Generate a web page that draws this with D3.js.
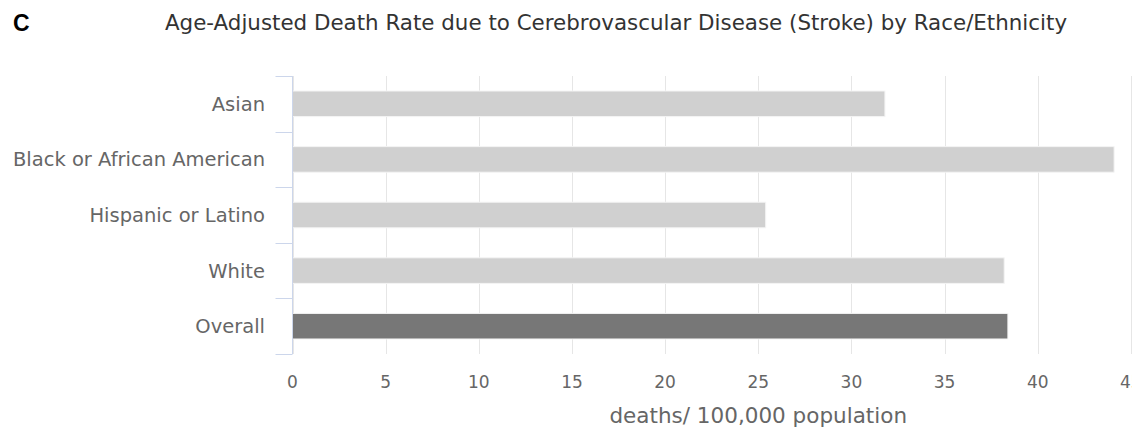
<!DOCTYPE html>
<html>
<head>
<meta charset="utf-8">
<script src="https://cdn.jsdelivr.net/npm/d3@7"></script>
<style>
  html, body { margin: 0; padding: 0; background: #ffffff; overflow: hidden; }
  svg { display: block; }
  text { font-family: "DejaVu Sans", sans-serif; }
</style>
</head>
<body>
<svg id="chart" width="1132" height="430"></svg>
<script>
// Age-adjusted stroke death rates (deaths per 100,000 population)
const categories = ["Asian", "Black or African American", "Hispanic or Latino", "White", "Overall"];
const rates = [31.8, 44.1, 25.4, 38.2, 38.4];
const xTicks = [0, 5, 10, 15, 20, 25, 30, 35, 40, 45];

const titleText = "Age-Adjusted Death Rate due to Cerebrovascular Disease (Stroke) by Race/Ethnicity";
const xTitle = "deaths/ 100,000 population";
const panelLetter = "C";

const svg = d3.select("#chart");

// value axis runs 0–50; the plot extends past the right edge of the view
const plot = { left: 292.5, right: 1224, top: 76, bottom: 354 };

const x = d3.scaleLinear().domain([0, 50]).range([plot.left, plot.right]);
const y = d3.scaleBand()
  .domain(categories)
  .range([plot.top, plot.bottom])
  .paddingInner(0.54)
  .paddingOuter(0.27);

// panel letter
svg.append("text")
  .attr("x", 13).attr("y", 31)
  .style("font-family", "'Liberation Sans', Arial, sans-serif")
  .attr("font-size", 23).attr("font-weight", "bold")
  .attr("fill", "#000")
  .text(panelLetter);

// chart title
svg.append("text")
  .attr("x", 616).attr("y", 30)
  .attr("text-anchor", "middle")
  .attr("font-size", 21.4)
  .attr("fill", "#333333")
  .text(titleText);

// vertical gridlines
svg.append("g")
  .selectAll("line")
  .data(xTicks)
  .join("line")
  .attr("x1", d => Math.round(x(d)) + 0.5)
  .attr("x2", d => Math.round(x(d)) + 0.5)
  .attr("y1", plot.top)
  .attr("y2", plot.bottom)
  .attr("stroke", "#e6e6e6")
  .attr("stroke-width", 1);

// x tick labels
svg.append("g")
  .selectAll("text")
  .data(xTicks)
  .join("text")
  .attr("x", d => x(d))
  .attr("y", 388)
  .attr("text-anchor", "middle")
  .attr("font-size", 17)
  .attr("fill", "#666666")
  .text(d => d);

// x axis title
svg.append("text")
  .attr("x", (plot.left + plot.right) / 2)
  .attr("y", 423)
  .attr("text-anchor", "middle")
  .attr("font-size", 21.5)
  .attr("fill", "#666666")
  .text(xTitle);

// bars
svg.append("g")
  .selectAll("rect")
  .data(categories.map((c, i) => ({ c, v: rates[i] })))
  .join("rect")
  .attr("x", x(0))
  .attr("y", d => y(d.c))
  .attr("width", d => x(d.v) - x(0))
  .attr("height", y.bandwidth())
  .attr("fill", d => d.c === "Overall" ? "#777777" : "#d0d0d0")
  .attr("stroke", "#f4f4f4")
  .attr("stroke-width", 1);

// category axis line and tick marks at band boundaries
const yAxis = svg.append("g").attr("stroke", "#ccd6eb").attr("stroke-width", 1);
yAxis.append("line")
  .attr("x1", plot.left).attr("x2", plot.left)
  .attr("y1", plot.top).attr("y2", plot.bottom);
const boundaries = d3.range(categories.length + 1).map(i => plot.top + i * y.step());
yAxis.selectAll("line.tick")
  .data(boundaries)
  .join("line")
  .attr("class", "tick")
  .attr("x1", plot.left - 17).attr("x2", plot.left)
  .attr("y1", d => Math.round(d) + 0.5).attr("y2", d => Math.round(d) + 0.5);

// category labels
svg.append("g")
  .selectAll("text")
  .data(categories)
  .join("text")
  .attr("x", 265)
  .attr("y", d => y(d) + y.bandwidth() / 2)
  .attr("dy", "0.36em")
  .attr("text-anchor", "end")
  .attr("font-size", 19.5)
  .attr("fill", "#666666")
  .text(d => d);
</script>
</body>
</html>
